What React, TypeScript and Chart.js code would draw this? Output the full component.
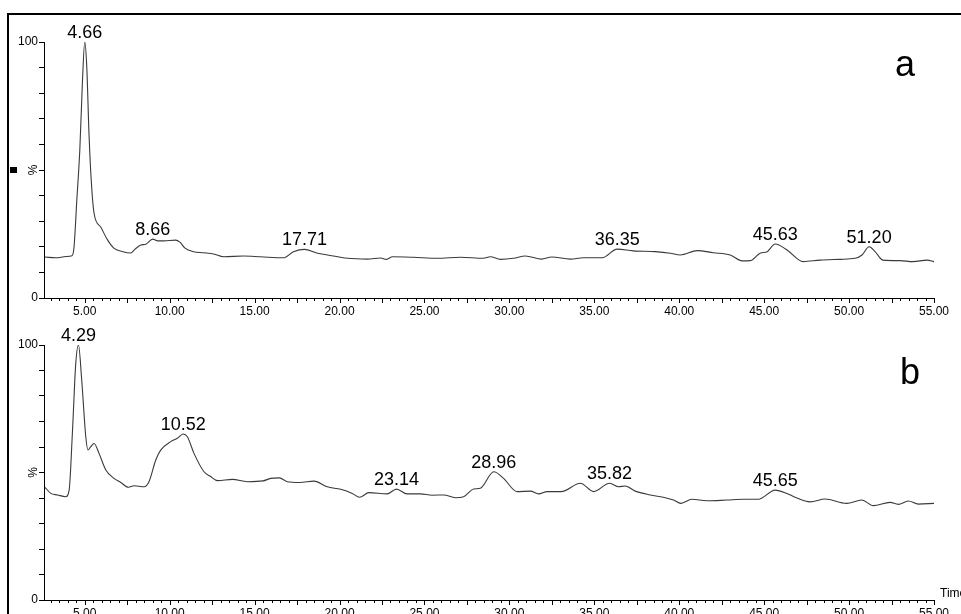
import React, { useEffect, useRef } from 'react';
import { Chart, registerables } from 'chart.js';

Chart.register(...registerables);

const FONT = '"Liberation Sans", Arial, Helvetica, sans-serif';

// ---------- Panel a ----------
const timesA = [
  2.65, 3.3, 3.9, 4.25, 4.37, 4.53, 4.71, 4.86, 5.0, 5.12, 5.25, 5.39, 5.55, 5.94, 6.34, 6.71, 7.2, 7.71,
  7.95, 8.3, 8.6, 9.0, 9.3, 9.65, 10.35, 10.6, 10.9, 11.41, 12.0, 12.59, 13.18, 14.35, 15.35, 16.7,
  17.29, 17.94, 18.7, 19.29, 20.47, 21.65, 22.41, 22.76, 23.12, 24.35, 25.76, 27.12, 28.47, 28.88,
  29.47, 30.24, 30.94, 31.9, 32.5, 33.59, 34.35, 35.47, 36.35, 37.29, 38.59, 39.47, 40.06, 41.06,
  42.0, 43.0, 43.71, 44.18, 44.76, 45.18, 45.65, 46.35, 47.29, 48.29, 49.47, 50.35, 50.76, 51.18,
  51.53, 52.0, 53.0, 53.76, 54.59, 55.0,
];
const valuesA = [
  16.0, 15.7, 16.2, 16.5, 20, 38, 58, 84, 100, 90, 64, 45, 33, 27.7, 22.7, 19.5, 18.2, 17.6,
  19, 20.7, 21, 23, 22.3, 22.3, 22.6, 21.8, 19.5, 18.1, 17.7, 17.2, 16.1, 16.4, 16.1, 15.7,
  18.1, 19.0, 17.5, 16.8, 15.5, 15.2, 15.6, 15.1, 16.1, 15.9, 15.5, 15.9, 15.5, 16.1,
  15.1, 15.5, 16.4, 15.2, 16.0, 15.2, 15.7, 15.7, 19.1, 18.4, 18.1, 17.5, 16.8, 18.5,
  17.7, 16.8, 14.5, 14.6, 17.5, 18.1, 21.1, 18.75, 14.2, 14.8, 15.1, 15.5, 16.8, 20.0,
  18.1, 14.8, 14.6, 14.2, 14.8, 14.2,
];
const peakLabelsA = ['4.66', '8.66', '17.71', '36.35', '45.63', '51.20'];
const peakTimesA = [5.0, 9.0, 17.94, 36.35, 45.65, 51.18];

// ---------- Panel b ----------
const timesB = [
  2.66, 3.0, 3.39, 3.88, 4.08, 4.28, 4.47, 4.63, 4.82, 5.06, 5.19, 5.35, 5.55, 5.84, 6.24, 6.72, 7.12,
  7.57, 7.9, 8.49, 8.78, 9.18, 9.47, 10.06, 10.45, 10.8, 11.04, 11.43, 12.02, 12.41, 12.82, 13.7,
  14.57, 15.5, 15.94, 16.45, 16.92, 17.65, 18.5, 19.28, 20.06, 20.75, 21.18, 21.73, 22.8, 23.35,
  23.98, 24.76, 25.45, 26.14, 26.82, 27.31, 27.9, 28.29, 29.08, 29.66, 30.45, 31.24, 31.72, 32.22,
  33.05, 34.18, 34.96, 35.9, 36.43, 36.82, 37.41, 38.29, 39.18, 39.66, 40.1, 40.75, 41.63, 42.8,
  43.78, 44.66, 45.65, 46.34, 46.82, 47.71, 48.59, 49.86, 50.75, 51.43, 52.41, 52.9, 53.49, 54.08,
  55.0,
];
const valuesB = [
  44.2, 41.8, 41.2, 40.5, 43.1, 66.7, 92.8, 100, 86.3, 64, 58.8, 60.1, 61.4, 57.5, 51, 47.7, 46.1,
  44.2, 44.8, 44.4, 46.4, 54.9, 58.8, 62.1, 63.4, 65.1, 64, 57.5, 50.3, 48.4, 46.8, 47.3,
  46.4, 46.7, 47.7, 47.9, 46.4, 46.1, 46.6, 44.4, 43.4, 41.8, 40.3, 42.1, 41.6, 43.5,
  41.6, 41.6, 41.1, 41.2, 40.1, 40.5, 43.5, 43.8, 50.3, 47.7, 42.5, 42.7, 41.6, 42.5,
  42.5, 45.8, 42.5, 45.8, 44.4, 44.7, 42.7, 41.2, 40.1, 39.2, 37.9, 39.5, 38.9, 39.2,
  39.5, 39.5, 43.1, 41.8, 40.3, 38.5, 39.6, 37.9, 39.2, 37, 38.3, 37.5, 38.8, 37.6,
  37.9,
];
const peakLabelsB = ['4.29', '10.52', '23.14', '28.96', '35.82', '45.65'];
const peakTimesB = [4.63, 10.8, 23.35, 29.08, 35.9, 45.65];

// ---------- Axis settings ----------
const xMin = 2.6;
const xMax = 55.0;
const xMajorTicks = [5, 10, 15, 20, 25, 30, 35, 40, 45, 50, 55];
const yMin = 0;
const yMax = 100;

const decorPlugin = {
  id: 'decor',
  afterDraw(chart: any, _args: any, opts: any) {
    const ctx = chart.ctx;
    const xs = chart.scales.x;
    const area = chart.chartArea;
    ctx.save();
    // x tick marks (minor 0.5, medium/major 2.5)
    ctx.strokeStyle = '#000';
    ctx.lineWidth = 1;
    const kStart = Math.ceil(xs.min * 2 - 1e-9);
    const kEnd = Math.floor(xs.max * 2 + 1e-9);
    for (let k = kStart; k <= kEnd; k++) {
      const v = k / 2;
      const px = Math.round(xs.getPixelForValue(v)) + 0.5;
      const len = k % 5 === 0 ? 5 : 3;
      ctx.beginPath();
      ctx.moveTo(px, area.bottom);
      ctx.lineTo(px, area.bottom + len);
      ctx.stroke();
    }
    // % label
    ctx.fillStyle = '#000';
    ctx.save();
    ctx.font = `12px ${FONT}`;
    ctx.translate(area.left - 10, (area.top + area.bottom) / 2);
    ctx.rotate(-Math.PI / 2);
    ctx.textAlign = 'center';
    ctx.textBaseline = 'middle';
    ctx.fillText('%', 0, 0);
    ctx.restore();
    // small square marker
    if (opts.square) {
      ctx.fillRect(2, Math.round((area.top + area.bottom) / 2) - 3, 7, 6);
    }
    // peak labels
    const meta = chart.getDatasetMeta(0);
    const times: number[] = opts.times;
    ctx.font = `18px ${FONT}`;
    ctx.textAlign = 'center';
    ctx.textBaseline = 'alphabetic';
    (opts.peakTimes as number[]).forEach((pt, j) => {
      let best = 0;
      let bd = Infinity;
      times.forEach((t, i) => {
        const d = Math.abs(t - pt);
        if (d < bd) {
          bd = d;
          best = i;
        }
      });
      const el = meta.data[best];
      ctx.fillText(opts.peakLabels[j], el.x, el.y - 4);
    });
    // panel letter
    ctx.font = `36px ${FONT}`;
    ctx.textAlign = 'center';
    ctx.fillText(opts.letter, opts.letterX, opts.letterY);
    // axis name
    if (opts.axisName) {
      ctx.font = `12px ${FONT}`;
      ctx.textAlign = 'left';
      ctx.fillText(opts.axisName, area.right + 6, area.bottom - 3);
    }
    ctx.restore();
  },
};

type PanelProps = {
  times: number[];
  values: number[];
  peakLabels: string[];
  peakTimes: number[];
  letter: string;
  letterX: number;
  letterY: number;
  square: boolean;
  axisName: string;
  padTop: number;
  width: number;
  height: number;
  left: number;
  top: number;
};

function Panel(p: PanelProps) {
  const ref = useRef<HTMLCanvasElement>(null);
  useEffect(() => {
    const canvas = ref.current;
    if (!canvas) return;
    const data = p.times.map((t, i) => ({ x: t, y: p.values[i] }));
    const chart = new Chart(canvas, {
      type: 'line',
      data: {
        datasets: [
          {
            data,
            borderColor: '#3a3a3a',
            borderWidth: 1.1,
            pointRadius: 0,
            fill: false,
            cubicInterpolationMode: 'monotone',
          },
        ],
      },
      options: {
        animation: false,
        responsive: false,
        devicePixelRatio: 1,
        events: [],
        layout: { padding: { top: p.padTop, right: 27, left: 0, bottom: 0 } },
        plugins: {
          legend: { display: false },
          tooltip: { enabled: false },
          decor: {
            times: p.times,
            peakLabels: p.peakLabels,
            peakTimes: p.peakTimes,
            letter: p.letter,
            letterX: p.letterX,
            letterY: p.letterY,
            square: p.square,
            axisName: p.axisName,
          },
        } as any,
        scales: {
          x: {
            type: 'linear',
            min: xMin,
            max: xMax,
            afterBuildTicks: (s: any) => {
              s.ticks = xMajorTicks.map((v) => ({ value: v }));
            },
            afterFit: (s: any) => {
              s.height = 24;
            },
            grid: { display: false, drawTicks: false },
            border: { display: true, color: '#000', width: 1 },
            ticks: {
              autoSkip: false,
              maxRotation: 0,
              minRotation: 0,
              padding: 6,
              color: '#000',
              font: { family: FONT, size: 12 },
              callback: (v: any) => Number(v).toFixed(2),
            },
          },
          y: {
            type: 'linear',
            min: yMin,
            max: yMax,
            afterFit: (s: any) => {
              s.width = 36;
            },
            grid: {
              display: true,
              drawOnChartArea: false,
              drawTicks: true,
              tickLength: 5,
              color: '#000',
              lineWidth: 1,
            },
            border: { display: true, color: '#000', width: 1 },
            ticks: {
              stepSize: 10,
              autoSkip: false,
              padding: 1,
              color: '#000',
              font: { family: FONT, size: 12 },
              callback: (v: any) => (v === 0 || v === 100 ? String(v) : ''),
            },
          },
        },
      },
      plugins: [decorPlugin],
    } as any);
    return () => chart.destroy();
  }, []);
  return (
    <canvas
      ref={ref}
      width={p.width}
      height={p.height}
      style={{
        position: 'absolute',
        left: p.left,
        top: p.top,
        width: p.width,
        height: p.height,
        display: 'block',
      }}
    />
  );
}

export default function App() {
  return (
    <div
      style={{
        position: 'fixed',
        left: 0,
        top: 0,
        width: 961,
        height: 614,
        overflow: 'hidden',
        background: '#fff',
      }}
    >
      <div
        style={{
          position: 'absolute',
          left: 7,
          top: 13,
          width: 1000,
          height: 700,
          borderTop: '2px solid #000',
          borderLeft: '2px solid #000',
        }}
      />
      <Panel
        times={timesA}
        values={valuesA}
        peakLabels={peakLabelsA}
        peakTimes={peakTimesA}
        letter="a"
        letterX={897}
        letterY={62}
        square={true}
        axisName=""
        padTop={28}
        width={953}
        height={308}
        left={8}
        top={14}
      />
      <Panel
        times={timesB}
        values={valuesB}
        peakLabels={peakLabelsB}
        peakTimes={peakTimesB}
        letter="b"
        letterX={902}
        letterY={62}
        square={false}
        axisName="Time"
        padTop={23}
        width={953}
        height={302}
        left={8}
        top={322}
      />
    </div>
  );
}
